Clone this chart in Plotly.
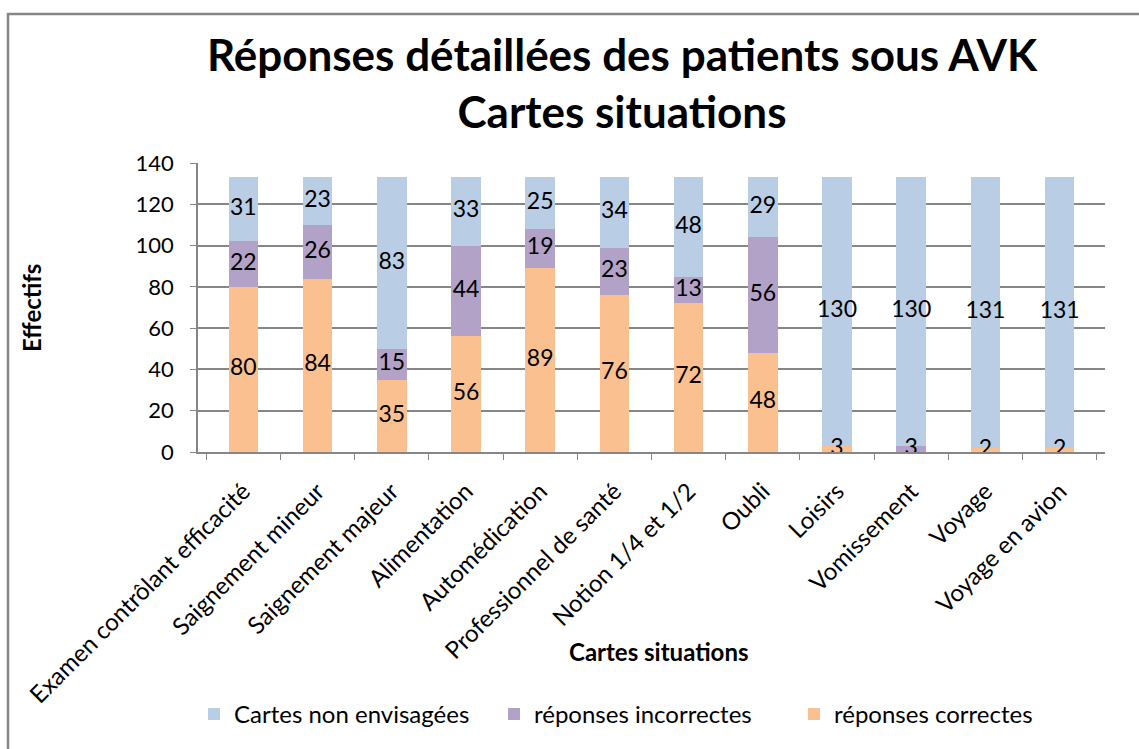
import plotly.graph_objects as go

categories = ["Examen contrôlant efficacité", "Saignement mineur", "Saignement majeur",
              "Alimentation", "Automédication", "Professionnel de santé",
              "Notion 1/4 et 1/2", "Oubli", "Loisirs", "Vomissement", "Voyage",
              "Voyage en avion"]
correctes = [80, 84, 35, 56, 89, 76, 72, 48, 3, 0, 2, 2]
incorrectes = [22, 26, 15, 44, 19, 23, 13, 56, 0, 3, 0, 0]
non_envisagees = [31, 23, 83, 33, 25, 34, 48, 29, 130, 130, 131, 131]

FONT = "Lato"
c_orange = "#FAC090"
c_purple = "#B3A2C7"
c_blue = "#B9CDE5"

L, R, T, B = 198, 34, 163, 293
W, H = 1139, 749
pw, ph = W - L - R, H - T - B

fig = go.Figure()
series = [("réponses correctes", correctes, c_orange),
          ("réponses incorrectes", incorrectes, c_purple),
          ("Cartes non envisagées", non_envisagees, c_blue)]
for name, vals, col in series:
    fig.add_trace(go.Bar(x=categories, y=vals, name=name, marker_color=col,
                         marker_line_width=0, width=0.4, hoverinfo="y+name"))

# labels at segment midpoints
base = [0] * len(categories)
for name, vals, col in series:
    ys, txt = [], []
    for i, v in enumerate(vals):
        ys.append(base[i] + v / 2)
        txt.append(str(v) if v else "")
        base[i] += v
    fig.add_trace(go.Scatter(x=categories, y=ys, mode="text", text=txt,
                             textfont=dict(family=FONT, size=23, color="black"),
                             showlegend=False, hoverinfo="skip"))

fig.update_layout(
    barmode="stack",
    width=W, height=H,
    margin=dict(l=L, r=R, t=T, b=B),
    paper_bgcolor="white", plot_bgcolor="white",
    font=dict(family=FONT, color="black"),
    title=dict(text="<b>Réponses détaillées des patients sous AVK<br>Cartes situations</b>",
               x=622 / W, xanchor="center", y=1 - 71 / H, yanchor="middle",
               font=dict(family=FONT, size=44, color="black")),
    xaxis=dict(tickangle=-45, tickfont=dict(family=FONT, size=24, color="black"),
               showline=True, linecolor="#868686", linewidth=1.5,
               ticks="outside", tickson="boundaries", ticklen=6, tickcolor="#868686",
               ticklabelstandoff=14, showgrid=False),
    yaxis=dict(range=[0, 140], dtick=20, tickfont=dict(family=FONT, size=22, color="black"),
               showline=True, linecolor="#868686", linewidth=1.5,
               ticks="outside", ticklen=6, tickcolor="#868686", ticklabelstandoff=12,
               showgrid=True, gridcolor="#868686", gridwidth=1.5, zeroline=False),
    legend=dict(orientation="h", x=(194 - L) / pw, xanchor="left",
                y=(H - B - 722) / ph, yanchor="middle", traceorder="reversed",
                entrywidth=255, itemwidth=30,
                font=dict(family=FONT, size=24, color="black")),
    bargap=0.6,
)

fig.add_annotation(text="<b>Cartes situations</b>", xref="paper", yref="paper",
                   x=(658 - L) / pw, y=(H - B - 658) / ph, showarrow=False,
                   xanchor="center", yanchor="middle",
                   font=dict(family=FONT, size=24, color="black"))
fig.add_annotation(text="<b>Effectifs</b>", xref="paper", yref="paper",
                   x=(32 - L) / pw, y=(H - B - 310) / ph, showarrow=False, textangle=-90,
                   xanchor="center", yanchor="middle",
                   font=dict(family=FONT, size=24, color="black"))

fig.add_shape(type="path", xref="paper", yref="paper",
              path=f"M {(8 - L) / pw} -2 L {(8 - L) / pw} {(H - B - 12) / ph} L 2 {(H - B - 12) / ph}",
              line=dict(color="#868686", width=2.5))

fig.write_html("out.html", config={"displayModeBar": False},
               post_script="document.body.style.margin='0';document.body.style.overflow='hidden';")
